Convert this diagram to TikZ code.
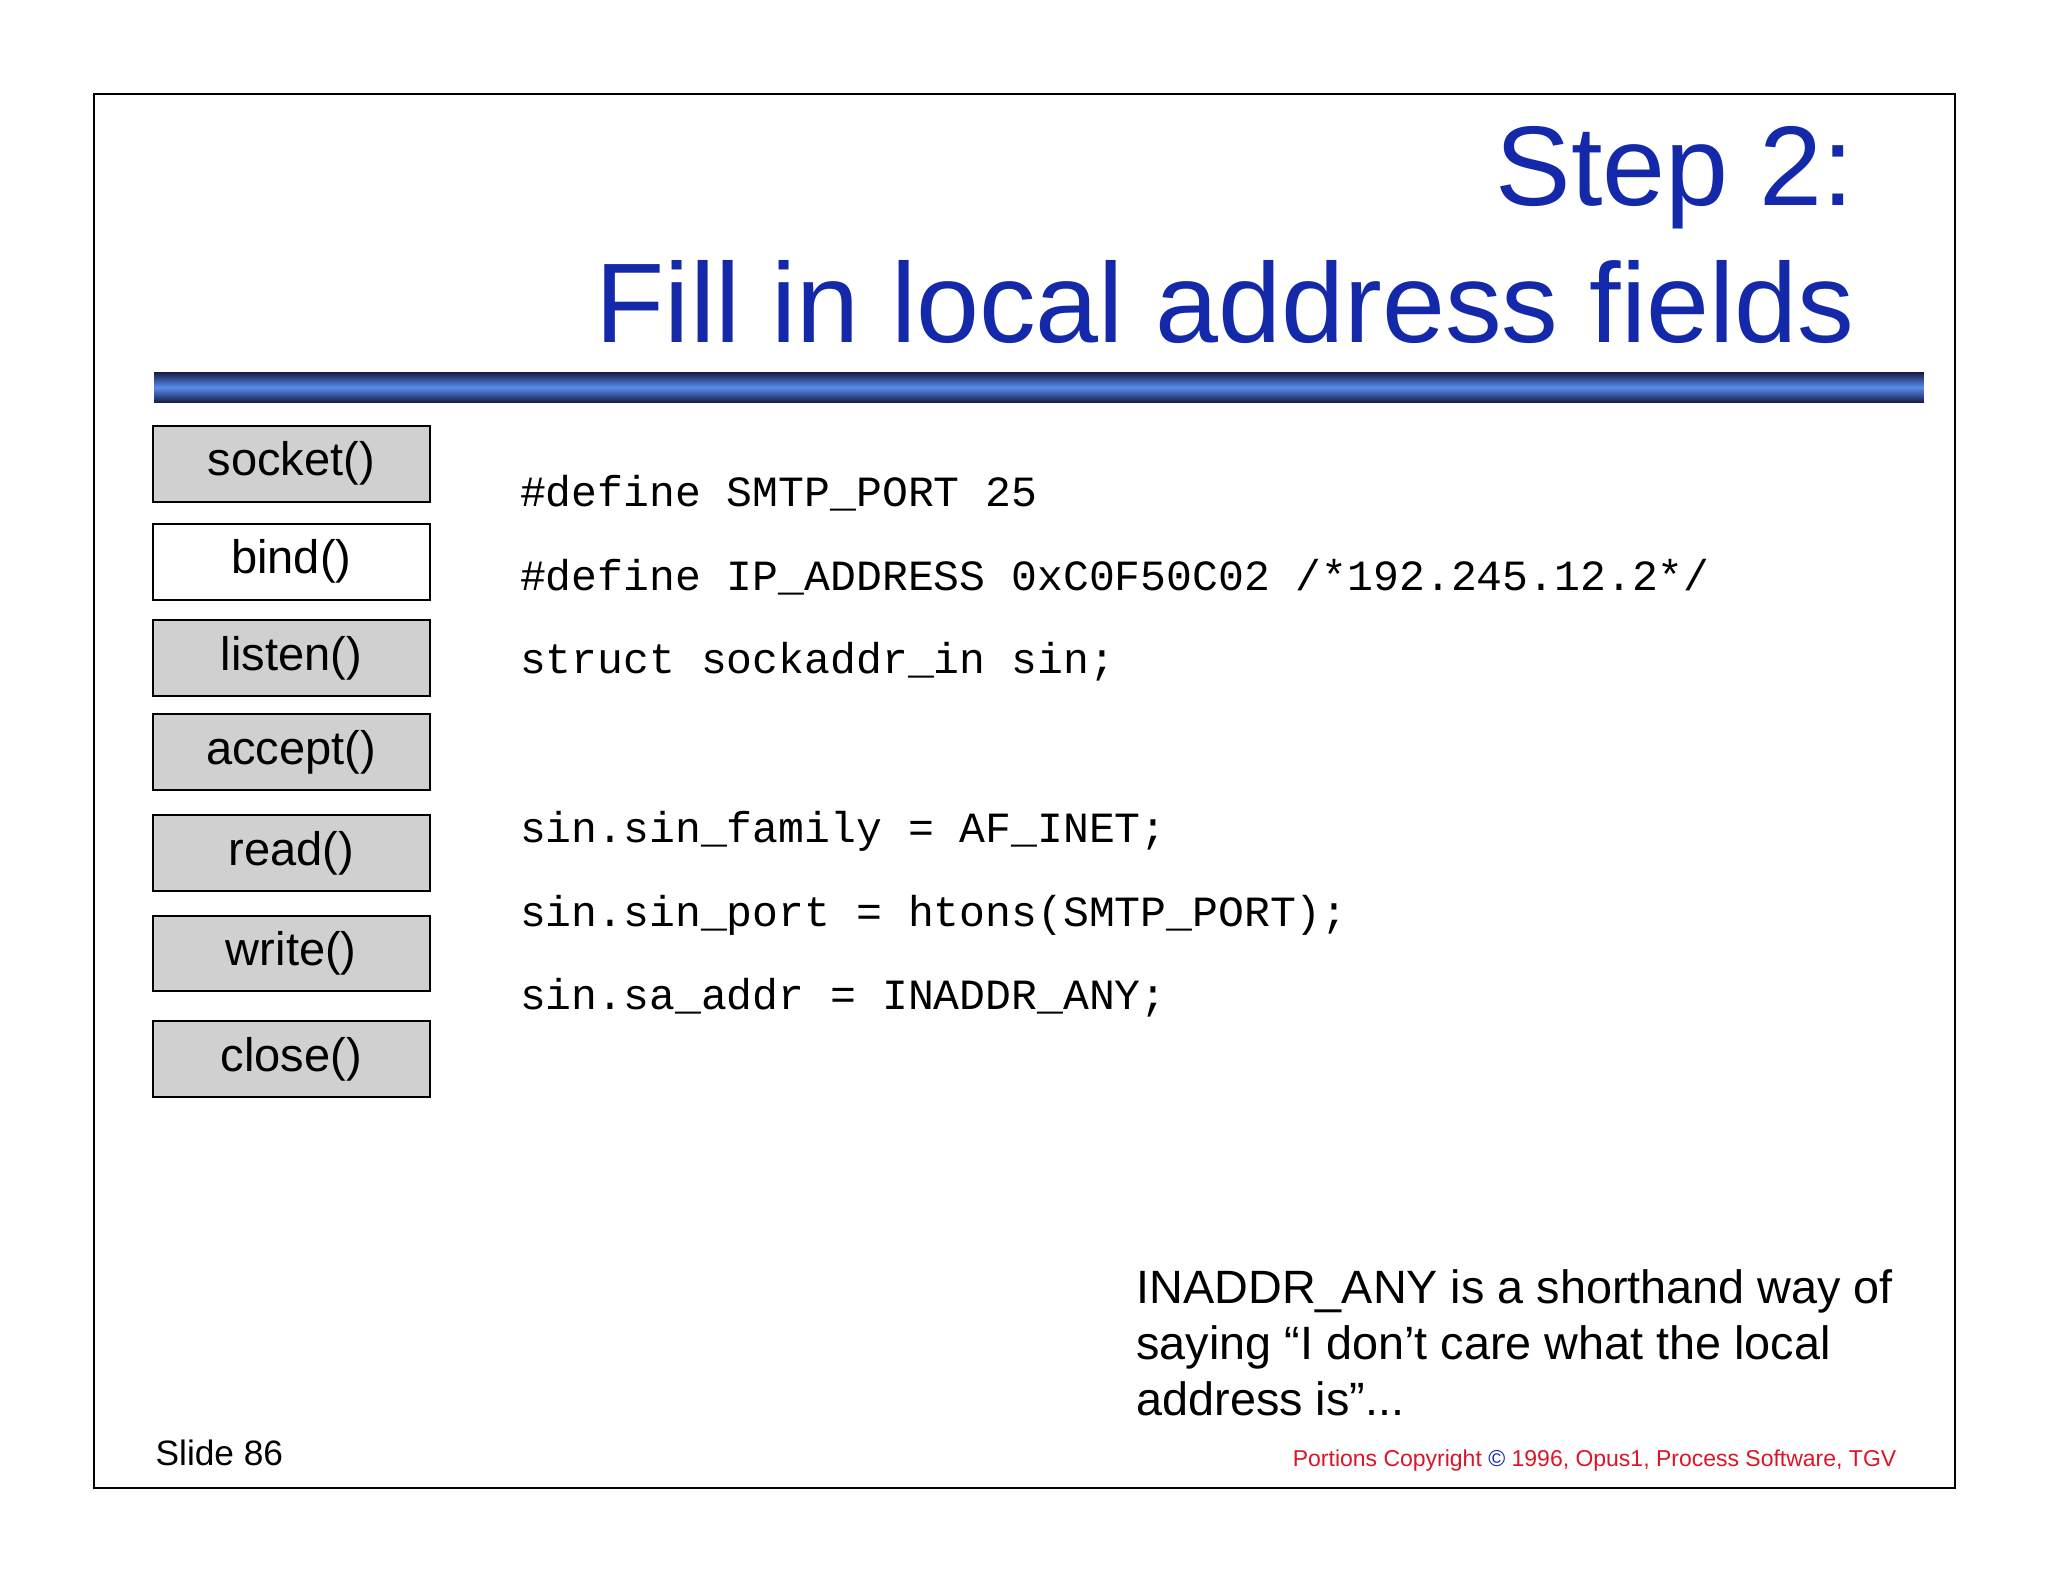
\documentclass[tikz,border=0pt]{standalone}
\usepackage{fontspec}
\setmainfont{Liberation Sans}
\setmonofont{Liberation Mono}
\usepackage{xcolor}
\definecolor{titleblue}{RGB}{20,40,170}
\definecolor{barblue}{RGB}{90,140,240}
\definecolor{bardark}{RGB}{20,30,70}
\definecolor{boxgray}{RGB}{208,208,208}
\definecolor{copyred}{RGB}{220,20,40}
\tikzset{
  call/.style={draw=black, line width=1.5pt, fill=boxgray, minimum width=212pt, minimum height=58pt, inner sep=0pt, font=\fontsize{36}{38}\selectfont},
  code/.style={anchor=base west, inner sep=0pt, font=\ttfamily\fontsize{33}{36}\selectfont},
  note/.style={anchor=base west, inner sep=0pt, font=\fontsize{35.8}{38}\selectfont}
}
\begin{document}
\begin{tikzpicture}[x=1pt,y=-1pt]
    \useasboundingbox (0,0) rectangle (1568,1211);
    \draw[line width=1.5pt] (72,72) rectangle (1497,1139);
    % title
    \node[anchor=base east, inner sep=0pt, text=titleblue, font=\fontsize{86.7}{90}\selectfont] (step) at (1420,157) {Step 2:};
    \node[anchor=base east, inner sep=0pt, text=titleblue, font=\fontsize{86.7}{90}\selectfont] (title) at (1420,262) {Fill in local address fields};
    \shade[top color=bardark, bottom color=bardark, middle color=barblue] (118,285) rectangle (1473,308);
    % calls
    \node[call] (socket) at (223,355) {socket()};
    \node[call, fill=white] (bind) at (223,430) {bind()};
    \node[call] (listen) at (223,504) {listen()};
    \node[call] (accept) at (223,576) {accept()};
    \node[call] (read) at (223,653) {read()};
    \node[call] (write) at (223,730) {write()};
    \node[call] (close) at (223,811) {close()};
    % code
    \node[code] (c1) at (398,388) {\#define SMTP\_PORT 25};
    \node[code] (c2) at (398,452) {\#define IP\_ADDRESS 0xC0F50C02 /*192.245.12.2*/};
    \node[code] (c3) at (398,516) {struct sockaddr\_in sin;};
    \node[code] (c4) at (398,645) {sin.sin\_family = AF\_INET;};
    \node[code] (c5) at (398,709) {sin.sin\_port = htons(SMTP\_PORT);};
    \node[code] (c6) at (398,773) {sin.sa\_addr = INADDR\_ANY;};
    % note
    \node[note] (n1) at (870,998) {INADDR\_ANY is a shorthand way of};
    \node[note] (n2) at (870,1041) {saying “I don’t care what the local};
    \node[note] (n3) at (870,1084) {address is”...};
    \node[anchor=base west, inner sep=0pt, font=\fontsize{27}{29}\selectfont] (slide) at (119,1122) {Slide 86};
    \node[anchor=base east, inner sep=0pt, text=copyred, font=\fontsize{17.6}{19}\selectfont] (copy) at (1452,1123) {Portions Copyright {\color{titleblue}©} 1996, Opus1, Process Software, TGV};
\end{tikzpicture}
\end{document}
